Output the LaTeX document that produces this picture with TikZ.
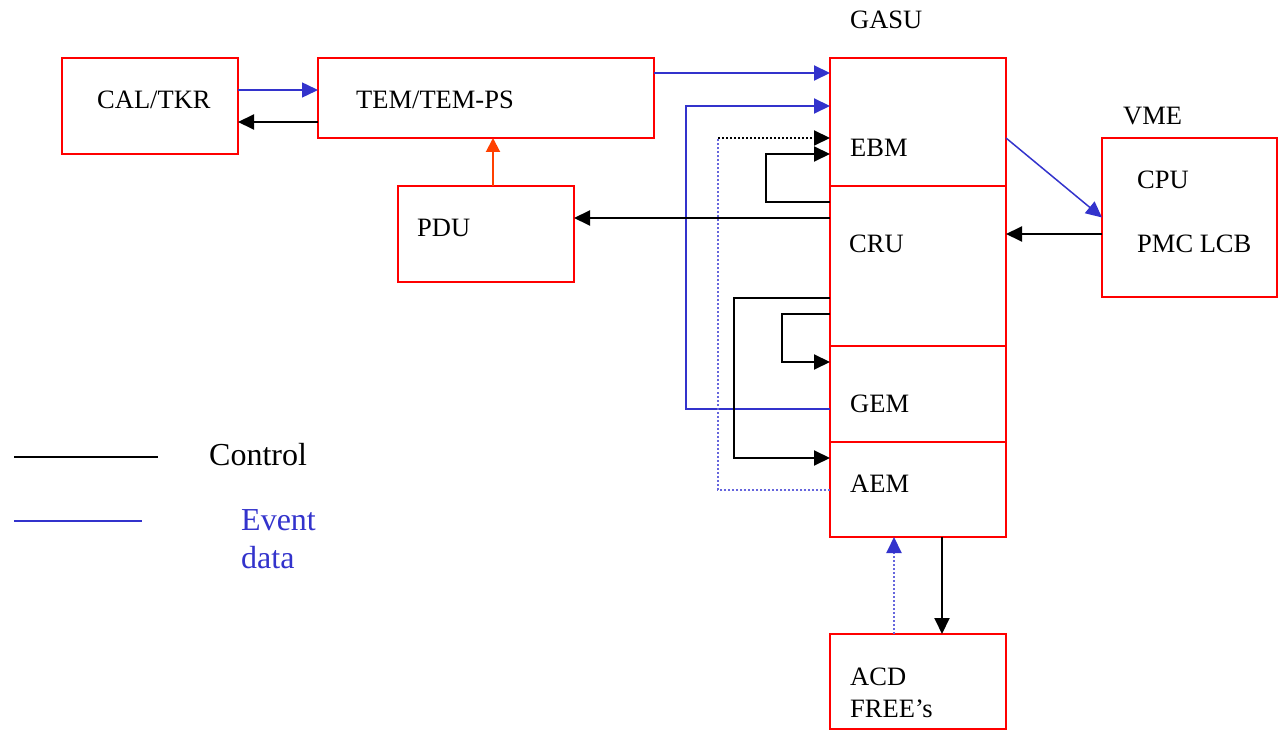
\documentclass[tikz,border=0pt]{standalone}
\usepackage{fontspec}
\setmainfont{Liberation Serif}
\usepackage{tikz}
\usetikzlibrary{positioning,arrows.meta,calc}
\definecolor{boxred}{RGB}{255,0,0}
\definecolor{evblue}{RGB}{51,51,204}
\definecolor{dotblue}{RGB}{102,102,221}
\definecolor{pwrorange}{RGB}{255,64,0}
\tikzset{
  blk/.style  ={draw=boxred, line width=2pt, outer sep=0pt, inner sep=0pt, anchor=north west},
  lbl/.style  ={font=\fontsize{26.5}{30}\selectfont, anchor=base west, inner sep=0pt},
  leg/.style  ={font=\fontsize{32}{36}\selectfont, anchor=base west, inner sep=0pt},
  ar/.style   ={-{Triangle[length=16pt,width=15pt]}, draw=black, line width=2pt},
  ear/.style  ={-{Triangle[length=16pt,width=15pt]}, draw=evblue, line width=2pt},
  tear/.style ={-{Triangle[length=16pt,width=15pt]}, draw=evblue, line width=1.5pt},
  oar/.style  ={-{Triangle[length=14pt,width=14pt]}, draw=pwrorange, line width=2pt},
  edot/.style ={draw=dotblue, line width=2pt, dash pattern=on 2pt off 2pt},
  cdot/.style ={draw=black, line width=2pt, dash pattern=on 2pt off 2pt},
}

\begin{document}
\begin{tikzpicture}[x=1pt,y=-1pt]
\useasboundingbox (0,0) rectangle (1278,735);
% boxes
\node[blk,minimum width=176pt,minimum height=96pt] (cal) at (62,58) {};
\node[blk,minimum width=336pt,minimum height=80pt,right=80pt of cal.north east,anchor=north west] (tem) {};
\node[blk,minimum width=176pt,minimum height=96pt] (pdu) at (398,186) {};
\node[blk,minimum width=176pt,minimum height=128pt] (ebm) at (830,58) {};
\node[blk,minimum width=176pt,minimum height=160pt,below=0pt of ebm.south west,anchor=north west] (cru) {};
\node[blk,minimum width=176pt,minimum height=96pt,below=0pt of cru.south west,anchor=north west] (gem) {};
\node[blk,minimum width=176pt,minimum height=95pt,below=0pt of gem.south west,anchor=north west] (aem) {};
\node[blk,minimum width=175pt,minimum height=159pt] (vme) at (1102,138) {};
\node[blk,minimum width=176pt,minimum height=95pt,below=97pt of aem.south west,anchor=north west] (acd) {};
% texts
\node[lbl] (gasutxt) at (850,29) {GASU};
\node[lbl] (vmetxt) at (1123,125) {VME};
\node[lbl] (caltxt) at (97,109) {CAL/TKR};
\node[lbl] (temtxt) at (356,109) {TEM/TEM-PS};
\node[lbl] (pdutxt) at (417,237) {PDU};
\node[lbl] (ebmtxt) at (850,157) {EBM};
\node[lbl] (crutxt) at (849,253) {CRU};
\node[lbl] (gemtxt) at (850,413) {GEM};
\node[lbl] (aemtxt) at (850,492) {AEM};
\node[lbl] (cputxt) at (1137,189) {CPU};
\node[lbl] (pmctxt) at (1137,253) {PMC LCB};
\node[lbl] (acdtxt) at (850,685) {ACD};
\node[lbl] (freetxt) at (850,717) {FREE’s};
% legend
\node[leg] (ctltxt) at (209,465) {Control};
\node[leg,text=evblue] (evtxt) at (241,530) {Event};
\node[leg,text=evblue] (datatxt) at (241,568) {data};
\draw[black,line width=2pt] (14,457) -- (158,457);
\draw[evblue,line width=2pt] (14,521) -- (142,521);
% connectors
\coordinate (cb) at ($(tem.west)+(0,-8)$);
\draw[tear] (cb -| cal.east) -- (cb);
\coordinate (ck) at ($(cal.east)+(0,16)$);
\draw[ar] (ck -| tem.west) -- (ck);
\coordinate (po) at ($(pdu.north)+(7,0)$);
\draw[oar] (po) -- (po |- tem.south);
\draw[ear] ($(tem.north east)+(0,15)$) -- ($(ebm.north west)+(0,15)$);
\draw[ear] ($(gem.west)+(0,15)$) -- ++(-144,0) |- ($(ebm.north west)+(0,48)$);
\coordinate (dtop) at ($(ebm.north west)+(0,80)$);
\coordinate (dbot) at ($(aem.west)+(-112,0)$);
\draw[edot] (aem.west) -- (dbot) -- (dbot |- dtop);
\draw[cdot,-{Triangle[length=16pt,width=15pt]}] (dbot |- dtop) -- (dtop);
\draw[ar] ($(cru.north west)+(0,16)$) -- ++(-64,0) |- ($(ebm.north west)+(0,96)$);
\draw[ar] ($(cru.north west)+(0,32)$) -- ($(pdu.east)+(0,-16)$);
\coordinate (vc) at ($(cru.north east)+(0,48)$);
\draw[ar] (vc -| vme.west) -- (vc);
\draw[tear] ($(ebm.north east)+(0,80)$) -- (vme.west);
\draw[ar] ($(cru.north west)+(0,112)$) -- ++(-96,0) |- ($(aem.north west)+(0,16)$);
\draw[ar] ($(cru.north west)+(0,128)$) -- ++(-48,0) |- ($(gem.north west)+(0,16)$);
\draw[ar] ($(aem.south west)+(112,0)$) -- ($(acd.north west)+(112,0)$);
\draw[edot,-{Triangle[length=16pt,width=15pt,color=evblue]}] ($(acd.north west)+(64,0)$) -- ($(aem.south west)+(64,0)$);
\end{tikzpicture}
\end{document}
